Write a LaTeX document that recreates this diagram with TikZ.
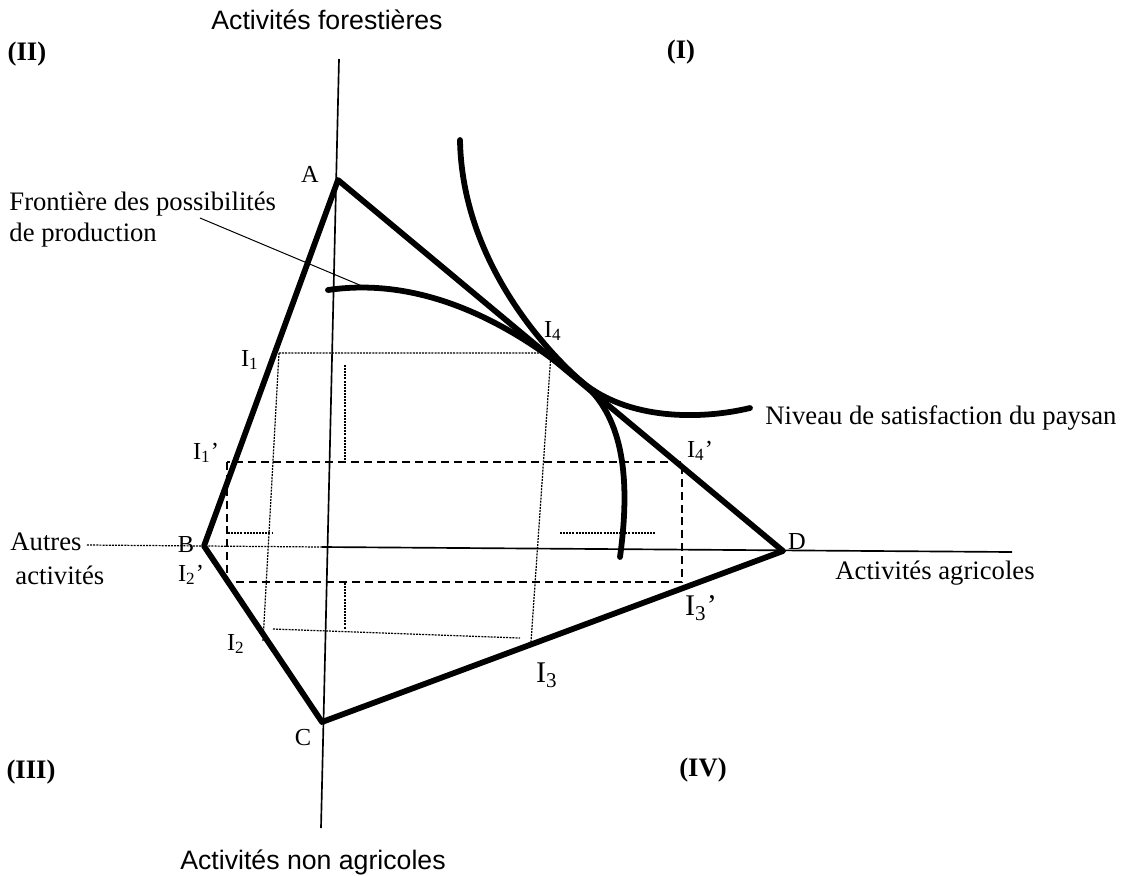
\documentclass[tikz,border=0pt]{standalone}
\usepackage{fontspec}
\setmainfont{Liberation Serif}
\setsansfont{Liberation Sans}
\usetikzlibrary{positioning}

\begin{document}
\begin{tikzpicture}[
    x=0.45pt, y=-0.45pt,
    every node/.style={font=\fontsize{12}{14}\selectfont, inner sep=0pt},
    axistext/.style={font=\sffamily\fontsize{12}{14}\selectfont},
    quadlabel/.style={font=\bfseries\fontsize{12}{14}\selectfont},
    ptlabel/.style={font=\fontsize{11}{13}\selectfont},
    biglabel/.style={font=\fontsize{13.5}{15}\selectfont},
    frontier/.style={line width=2.6pt, line join=round, line cap=round},
    axisline/.style={line width=0.75pt},
    thindot/.style={line width=0.55pt, dash pattern=on 0.9pt off 0.5pt},
    dashbox/.style={line width=0.65pt, dash pattern=on 3.6pt off 2.2pt},
]
\useasboundingbox (0,0) rectangle (1124,875);
% points of the polygon and the axes
\coordinate (A) at (338,180);
\coordinate (B) at (204,546);
\coordinate (C) at (322,722);
\coordinate (D) at (783,551);
\coordinate (T) at (582,382);
\coordinate (vtop) at (339,59);
\coordinate (vbot) at (321,828);
\coordinate (hleft) at (322,547);
\coordinate (hright) at (1012,552);
% axes
\draw[axisline] (vtop) -- (vbot);
\draw[axisline] (hleft) -- (hright);
% projections
\coordinate (pI1) at (279,353);
\coordinate (pI4) at (551,353);
\coordinate (pI2) at (263,641);
\coordinate (pI3) at (531,642);
\coordinate (qI2) at (273,629);
\coordinate (qI3) at (520,638);
\draw[thindot] (pI1) -- (pI4) -- (pI3);
\draw[thindot] (pI1) -- (pI2);
\draw[thindot] (qI2) -- (qI3);
\draw[dashbox] (227,462) rectangle (682,582);
\draw[thindot] (345,365) -- (345,462);
\draw[thindot] (345,583) -- (345,629);
\draw[thindot] (228,533) -- (273,533);
\draw[thindot] (560,533) -- (655,533);
% polygon, frontier and indifference curve
\draw[frontier] (A) -- (B) -- (C) -- (D) -- cycle;
\draw[frontier] (328,290) .. controls (430,275) and (521,331) .. (T)
    .. controls (620,414) and (632,470) .. (620,557);
\draw[frontier] (460,140) .. controls (462,260) and (545,350) .. (T)
    .. controls (628,420) and (700,420) .. (750,408);
% labels
\node[axistext] (forest) at (327,20) {Activités forestières};
\node[axistext] (nonagri) at (313,862) {Activités non agricoles};
\node (agri) at (935,573) {Activités agricoles};
\node[quadlabel] (q2) at (27,54) {(II)};
\node[quadlabel] (q1) at (681,52) {(I)};
\node[quadlabel] (q3) at (31,772) {(III)};
\node[quadlabel] (q4) at (703,770) {(IV)};
\node[ptlabel] (lA) at (310,174) {A};
\node[ptlabel] (lB) at (186,545) {B};
\node[ptlabel] (lC) at (303,738) {C};
\node[ptlabel] (lD) at (797,542) {D};
\node[ptlabel] (lI1) at (250,360) {I\textsubscript{1}};
\node[ptlabel] (lI1p) at (206,453) {I\textsubscript{1}’};
\node[ptlabel] (lI2p) at (191,575) {I\textsubscript{2}’};
\node[ptlabel] (lI2) at (236,644) {I\textsubscript{2}};
\node[ptlabel] (lI4) at (553,331) {I\textsubscript{4}};
\node[ptlabel] (lI4p) at (700,451) {I\textsubscript{4}’};
\node[biglabel] (lI3) at (547,675) {I\textsubscript{3}};
\node[biglabel] (lI3p) at (701,608) {I\textsubscript{3}’};
\node[anchor=west] (sat) at (765,418) {Niveau de satisfaction du paysan};
\node[anchor=west, align=left] (ppf) at (9,220) {Frontière des possibilités\\de production};
\node[anchor=west] (autres) at (10,542) {Autres};
\node[anchor=west] (activ) at (15,575) {activités};
% leaders
\coordinate (ppfend) at (362,286);
\draw[line width=0.45pt] (200,218) -- (ppfend);
\draw[thindot] (autres.east) ++(5,3) -- (hleft);
\end{tikzpicture}
\end{document}
